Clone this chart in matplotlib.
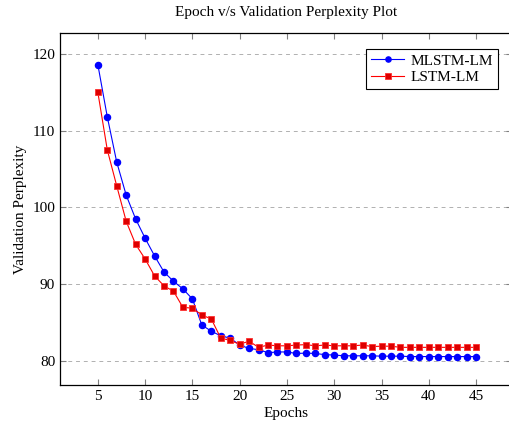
import matplotlib.pyplot as plt
import numpy as np

plt.rcParams['font.family'] = ['Liberation Serif', 'DejaVu Serif']
plt.rcParams['mathtext.fontset'] = 'stix'

epochs = list(range(5, 46))
mlstm = [118.6, 111.8, 105.9, 101.6, 98.5, 96.0, 93.7, 91.6, 90.4, 89.4,
         88.1, 84.7, 83.9, 83.3, 83.0, 82.1, 81.65, 81.5, 81.1, 81.2,
         81.2, 81.0, 81.05, 81.0, 80.85, 80.8, 80.7, 80.7, 80.7, 80.7,
         80.65, 80.65, 80.65, 80.6, 80.6, 80.6, 80.6, 80.6, 80.6, 80.6, 80.6]
lstm = [115.0, 107.5, 102.8, 98.2, 95.2, 93.3, 91.1, 89.8, 89.1, 87.0,
        86.9, 86.0, 85.5, 83.0, 82.7, 82.2, 82.6, 81.8, 82.1, 82.0,
        82.0, 82.1, 82.15, 82.0, 82.1, 82.0, 82.0, 82.0, 82.1, 81.9,
        81.95, 81.95, 81.8, 81.8, 81.8, 81.8, 81.8, 81.8, 81.8, 81.8, 81.8]

fig = plt.figure(figsize=(5.1, 4.26), dpi=100)
ax = fig.add_axes([60 / 510, 41 / 426, 452 / 510, 352 / 426])

ax.plot(epochs, mlstm, color='blue', lw=0.8, marker='o', ms=4.4,
        mfc='blue', mec='blue', label='MLSTM-LM')
ax.plot(epochs, lstm, color='red', lw=0.8, marker='s', ms=4.4,
        mfc='#dd0000', mec='#ff3030', mew=0.6, label='LSTM-LM')

ax.set_xlim(1, 48.8)
ax.set_ylim(76.9, 122.7)
ax.set_xticks(range(5, 46, 5))
ax.set_yticks([80, 90, 100, 110, 120])
ax.yaxis.grid(True, linestyle=(0, (4, 4)), color='#b0b0b0', lw=0.7)
ax.tick_params(direction='in', top=True, right=True, labelsize=11,
               color='#808080', length=4)
for s in ax.spines.values():
    s.set_linewidth(0.9)

ax.set_xlabel('Epochs', fontsize=11, labelpad=3)
ax.set_ylabel('Validation Perplexity', fontsize=11, labelpad=4)
ax.set_title('Epoch v/s Validation Perplexity Plot', fontsize=11, pad=12)

leg = ax.legend(loc='upper right', fontsize=11, fancybox=False,
                edgecolor='black', framealpha=1, handlelength=2.2,
                borderpad=0.3, labelspacing=0.2, handletextpad=0.4,
                markerscale=0.85, bbox_to_anchor=(0.985, 0.975))
leg.get_frame().set_linewidth(0.8)

fig.savefig('out.png', dpi=100)
